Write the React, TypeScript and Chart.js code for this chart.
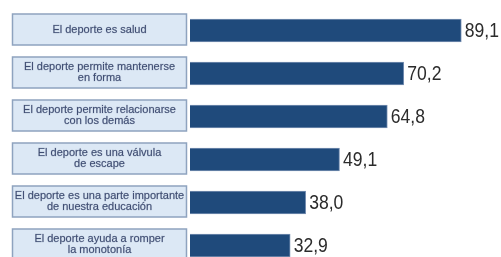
import React, { useEffect, useRef } from "react";
import { Chart, registerables } from "chart.js";

Chart.register(...registerables);

const categories: string[][] = [
  ["El deporte es salud"],
  ["El deporte permite mantenerse", "en forma"],
  ["El deporte permite relacionarse", "con los demás"],
  ["El deporte es una válvula", "de escape"],
  ["El deporte es una parte importante", "de nuestra educación"],
  ["El deporte ayuda a romper", "la monotonía"],
];
const values: number[] = [89.1, 70.2, 64.8, 49.1, 38.0, 32.9];
const valueLabels: string[] = ["89,1", "70,2", "64,8", "49,1", "38,0", "32,9"];

const boxPlugin = {
  id: "boxLabels",
  beforeDatasetsDraw(chart: any) {
    const { ctx } = chart;
    const y = chart.scales.y;
    ctx.save();
    categories.forEach((lines, i) => {
      const cy = y.getPixelForValue(i) - 1;
      const x0 = 12.5, x1 = 186.5, h = 31;
      ctx.fillStyle = "#dce8f5";
      ctx.fillRect(x0, cy - h / 2, x1 - x0, h);
      ctx.strokeStyle = "#8ea3bf";
      ctx.lineWidth = 1.5;
      ctx.strokeRect(x0, cy - h / 2, x1 - x0, h);
      ctx.fillStyle = "#3f4d72";
      ctx.strokeStyle = "rgba(63,77,114,0.35)";
      ctx.lineWidth = 0.5;
      ctx.font = "11px 'Liberation Sans', Arial, sans-serif";
      ctx.textAlign = "center";
      ctx.textBaseline = "middle";
      const lh = 11;
      const start = cy - ((lines.length - 1) * lh) / 2;
      lines.forEach((ln, k) => {
        ctx.fillText(ln, (x0 + x1) / 2, start + k * lh);
        ctx.strokeText(ln, (x0 + x1) / 2, start + k * lh);
      });
    });
    ctx.restore();
  },
  afterDatasetsDraw(chart: any) {
    const { ctx } = chart;
    const meta = chart.getDatasetMeta(0);
    ctx.save();
    ctx.fillStyle = "#2b2b2b";
    ctx.font = "19.5px 'Liberation Sans', Arial, sans-serif";
    ctx.textAlign = "left";
    ctx.textBaseline = "middle";
    meta.data.forEach((bar: any, i: number) => {
      ctx.save();
      ctx.translate(bar.x + 3.5, bar.y + 1);
      ctx.scale(0.9, 1);
      ctx.fillText(valueLabels[i], 0, 0);
      ctx.restore();
    });
    ctx.restore();
  },
};

export default function App() {
  const ref = useRef<HTMLCanvasElement>(null);
  useEffect(() => {
    if (!ref.current) return;
    const chart = new Chart(ref.current, {
      type: "bar",
      data: {
        labels: categories,
        datasets: [
          {
            data: values,
            backgroundColor: "#1f4a7b",
            borderColor: "#7890b2",
            borderWidth: 1,
            barThickness: 23,
          },
        ],
      },
      options: {
        indexAxis: "y",
        animation: false,
        responsive: false,
        maintainAspectRatio: false,
        layout: { padding: { left: 190, right: 6.5, top: 9, bottom: 4 } },
        plugins: { legend: { display: false }, tooltip: { enabled: false } },
        scales: {
          x: { display: false, min: 0, max: 100 },
          y: { display: false },
        },
      },
      plugins: [boxPlugin],
    });
    return () => chart.destroy();
  }, []);
  return (
    <div style={{ position: "fixed", left: 0, top: 0, width: 501, height: 257, overflow: "hidden", background: "#fff" }}>
      <canvas ref={ref} width={501} height={271} style={{ width: 501, height: 271 }} />
    </div>
  );
}
